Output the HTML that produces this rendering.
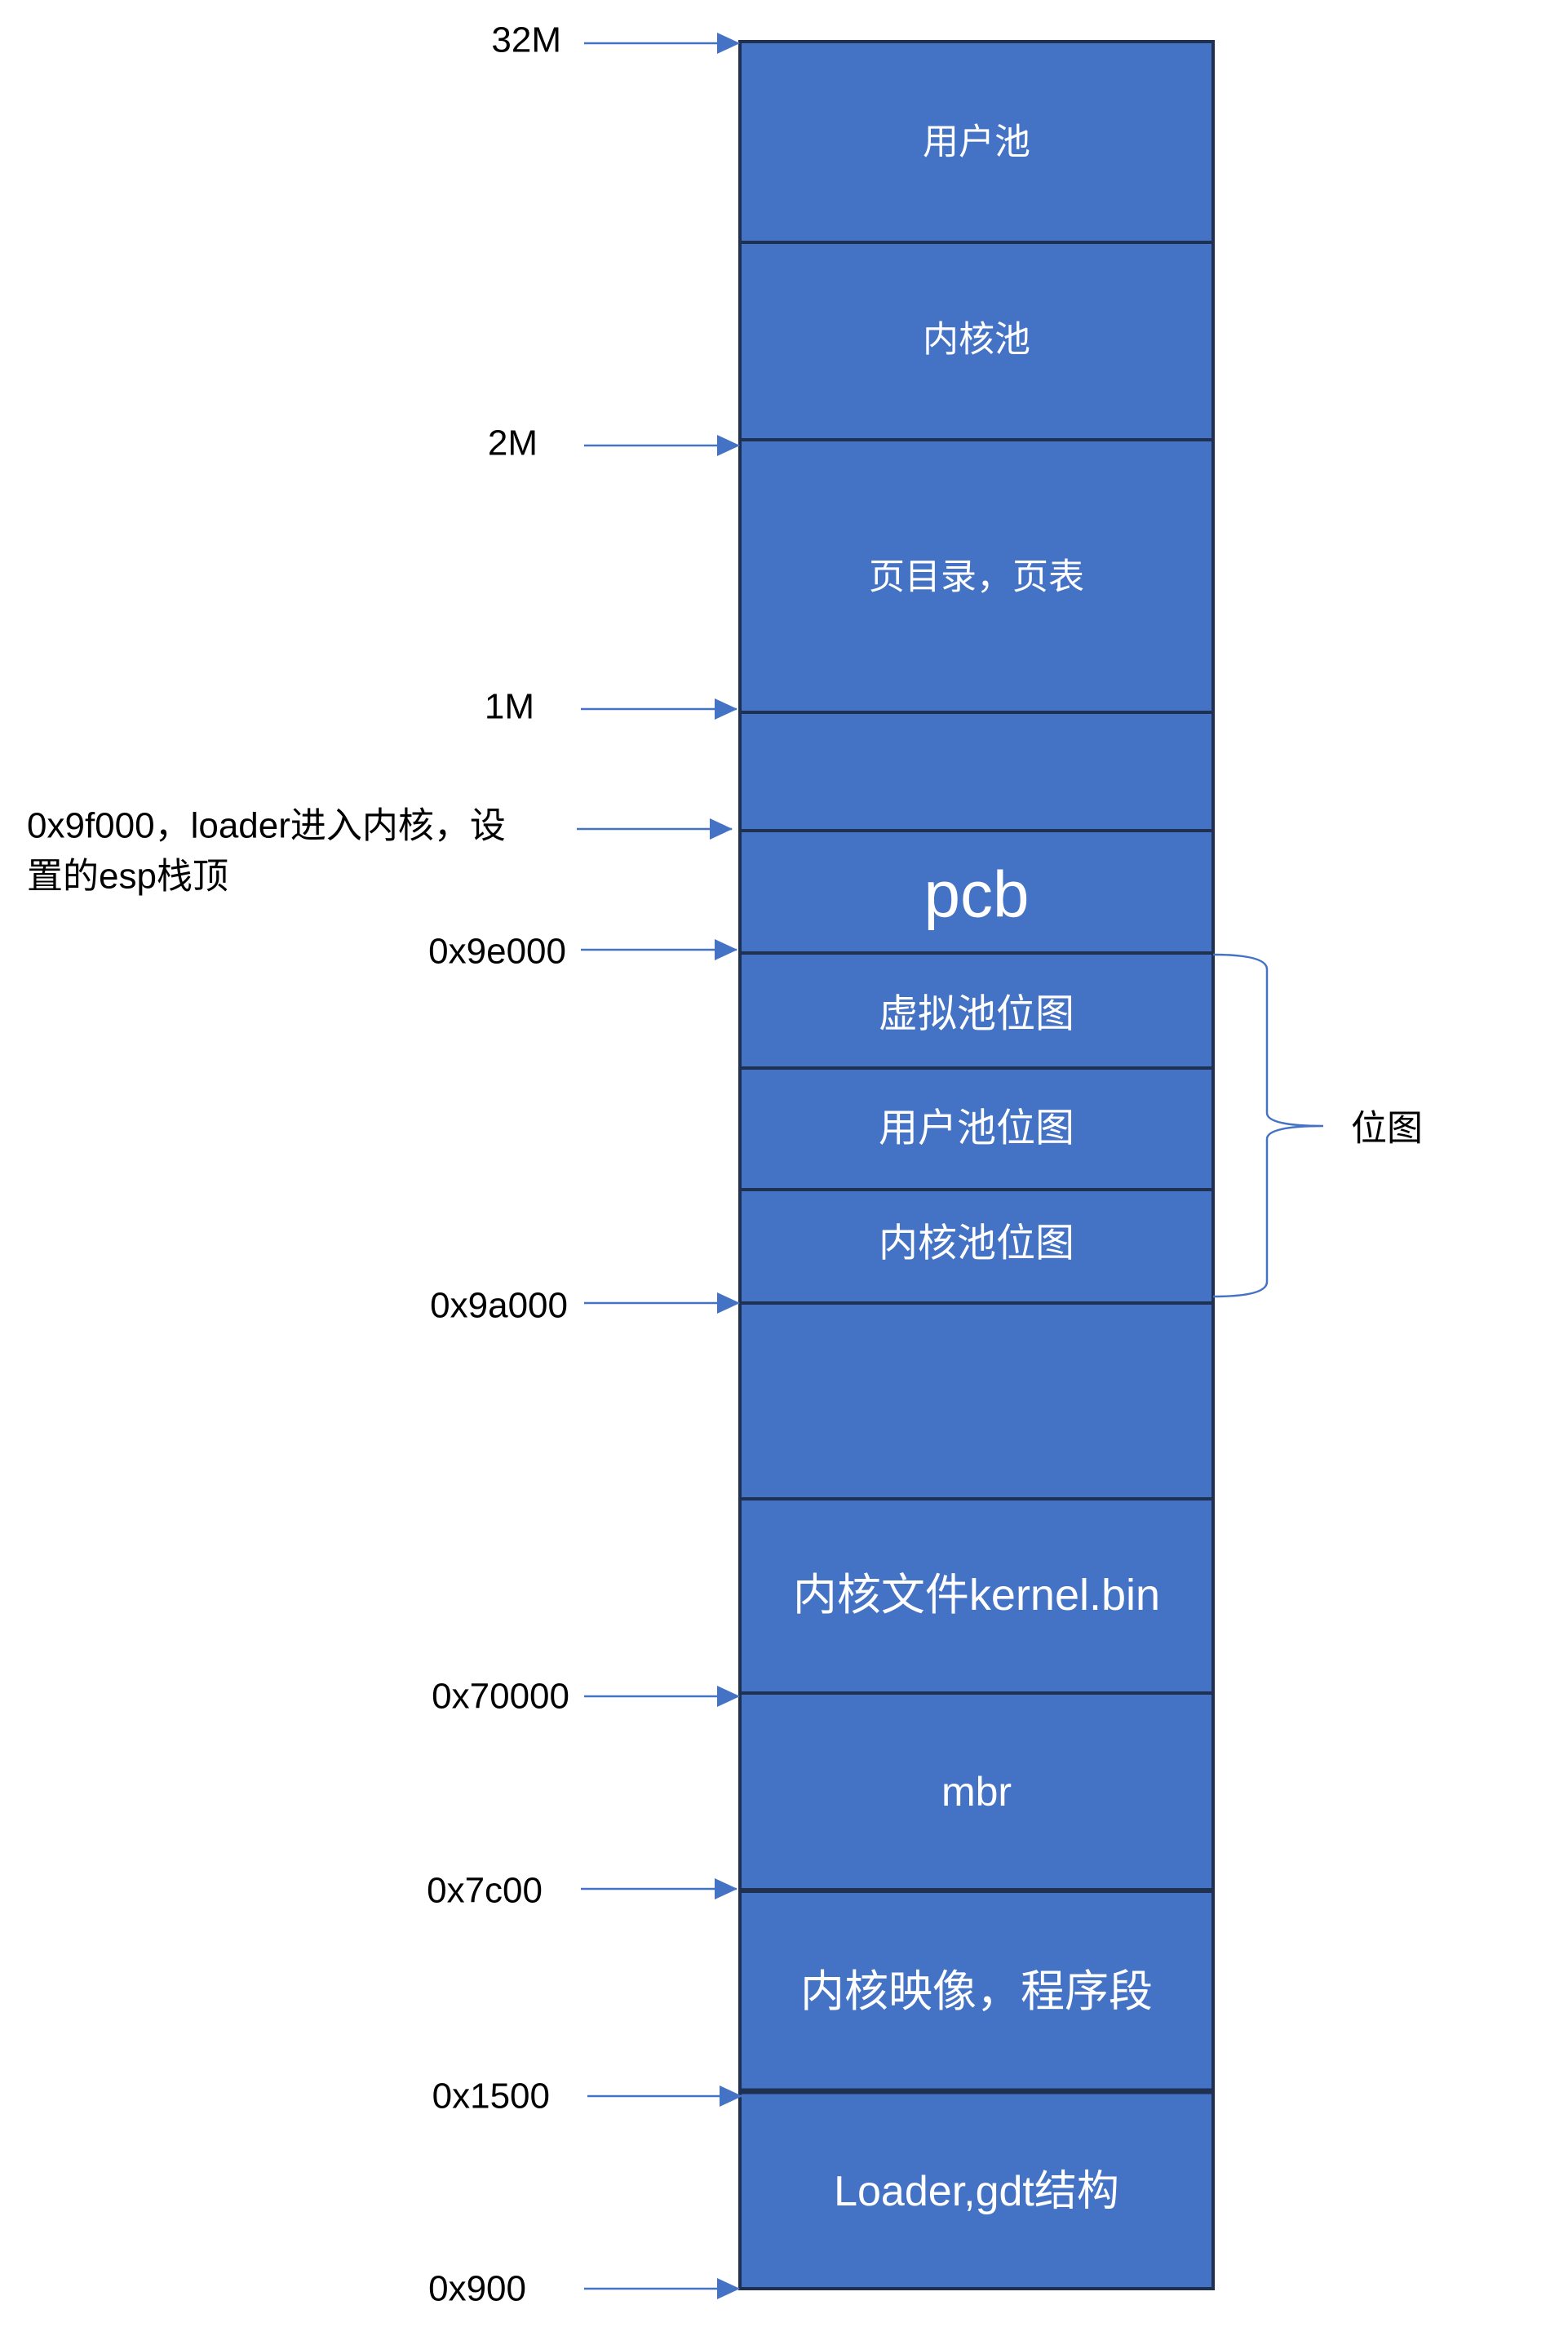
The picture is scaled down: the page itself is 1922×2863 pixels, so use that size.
<!DOCTYPE html>
<html><head><meta charset="utf-8"><style>
body{margin:0;background:#fff;width:1922px;height:2858px;overflow:hidden}
svg text{font-family:"Liberation Sans","Noto Sans CJK SC",sans-serif}
</style></head><body>
<svg width="1922" height="2858" viewBox="0 0 1922 2858" xmlns="http://www.w3.org/2000/svg">
<defs><marker id="a" markerWidth="28" markerHeight="26" refX="27" refY="13" orient="auto" markerUnits="userSpaceOnUse" viewBox="0 0 28 26"><path d="M0,0 L28,13 L0,26z" fill="#4472c4"/></marker></defs>
<rect x="907" y="51" width="580" height="2754" fill="#4472c4" stroke="#1f3050" stroke-width="4"/>
<g stroke="#1f3050" stroke-width="4">
<line x1="907" y1="297" x2="1487" y2="297"/>
<line x1="907" y1="539" x2="1487" y2="539"/>
<line x1="907" y1="873" x2="1487" y2="873"/>
<line x1="907" y1="1018" x2="1487" y2="1018"/>
<line x1="907" y1="1168" x2="1487" y2="1168"/>
<line x1="907" y1="1309" x2="1487" y2="1309"/>
<line x1="907" y1="1458" x2="1487" y2="1458"/>
<line x1="907" y1="1597" x2="1487" y2="1597"/>
<line x1="907" y1="1837" x2="1487" y2="1837"/>
<line x1="907" y1="2075" x2="1487" y2="2075"/>
<line x1="907" y1="2317" x2="1487" y2="2317" stroke-width="6"/>
<line x1="907" y1="2563" x2="1487" y2="2563" stroke-width="7"/>
</g>
<g fill="#fff" text-anchor="middle" dominant-baseline="central">
<text x="1197" y="174" font-size="44">用户池</text>
<text x="1197" y="416" font-size="44">内核池</text>
<text x="1197" y="707" font-size="44">页目录，页表</text>
<text x="1197" y="1096" font-size="80">pcb</text>
<text x="1197" y="1243" font-size="48">虚拟池位图</text>
<text x="1197" y="1383" font-size="48">用户池位图</text>
<text x="1197" y="1524" font-size="48">内核池位图</text>
<text x="1197" y="1955" font-size="54">内核文件kernel.bin</text>
<text x="1197" y="2196" font-size="50">mbr</text>
<text x="1197" y="2441" font-size="54">内核映像，程序段</text>
<text x="1197" y="2686" font-size="52">Loader,gdt结构</text>
</g>
<g stroke="#4472c4" stroke-width="2.5" marker-end="url(#a)">
<line x1="716" y1="53" x2="906" y2="53"/>
<line x1="716" y1="546" x2="906" y2="546"/>
<line x1="712" y1="869" x2="903" y2="869"/>
<line x1="707" y1="1016" x2="897" y2="1016"/>
<line x1="712" y1="1164" x2="903" y2="1164"/>
<line x1="716" y1="1597" x2="906" y2="1597"/>
<line x1="716" y1="2079" x2="906" y2="2079"/>
<line x1="712" y1="2315" x2="903" y2="2315"/>
<line x1="720" y1="2569" x2="909" y2="2569"/>
<line x1="716" y1="2805" x2="906" y2="2805"/>
</g>
<g fill="#000" font-size="44" dominant-baseline="central">
<text x="688" y="49" text-anchor="end">32M</text>
<text x="659" y="543" text-anchor="end">2M</text>
<text x="655" y="866" text-anchor="end">1M</text>
<text x="33" y="1012">0x9f000，loader进入内核，设</text>
<text x="33" y="1074">置的esp栈顶</text>
<text x="694" y="1166" text-anchor="end">0x9e000</text>
<text x="696" y="1600" text-anchor="end">0x9a000</text>
<text x="698" y="2079" text-anchor="end">0x70000</text>
<text x="665" y="2317" text-anchor="end">0x7c00</text>
<text x="674" y="2569" text-anchor="end">0x1500</text>
<text x="645" y="2805" text-anchor="end">0x900</text>
<text x="1656" y="1383">位图</text>
</g>
<path d="M1487,1170 Q1553,1170 1553,1188 L1553,1364 Q1553,1380 1622,1380 Q1553,1380 1553,1396 L1553,1571 Q1553,1589 1487,1589" fill="none" stroke="#4472c4" stroke-width="2.5"/>
</svg>
</body></html>
